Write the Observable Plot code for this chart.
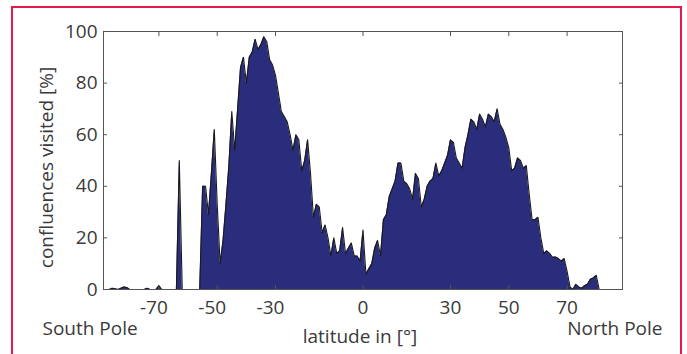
<!DOCTYPE html>
<html><head><meta charset="utf-8">
<script src="https://cdn.jsdelivr.net/npm/d3@7"></script>
<script src="https://cdn.jsdelivr.net/npm/@observablehq/plot@0.6"></script>
<style>
body{margin:0;background:#fff;}
#wrap{position:relative;width:687px;height:354px;overflow:hidden;background:#fff;}
#border{position:absolute;left:11px;top:6px;width:671px;height:420px;border:2px solid #e5194d;border-bottom:none;box-sizing:border-box;}
#chart{position:absolute;left:0;top:0;}
</style></head><body>
<div id="wrap"><div id="border"></div><div id="chart"></div></div>
<script>
// latitude in degrees (-89 ... 89)
const latitudes = [
 -89,-88,-87,-86,-85,-84,-83,-82,-81,-80,
 -79,-78,-77,-76,-75,-74,-73,-72,-71,-70,
 -69,-68,-67,-66,-65,-64,-63,-62,-61,-60,
 -59,-58,-57,-56,-55,-54,-53,-52,-51,-50,
 -49,-48,-47,-46,-45,-44,-43,-42,-41,-40,
 -39,-38,-37,-36,-35,-34,-33,-32,-31,-30,
 -29,-28,-27,-26,-25,-24,-23,-22,-21,-20,
 -19,-18,-17,-16,-15,-14,-13,-12,-11,-10,
 -9,-8,-7,-6,-5,-4,-3,-2,-1,0,
 1,2,3,4,5,6,7,8,9,10,
 11,12,13,14,15,16,17,18,19,20,
 21,22,23,24,25,26,27,28,29,30,
 31,32,33,34,35,36,37,38,39,40,
 41,42,43,44,45,46,47,48,49,50,
 51,52,53,54,55,56,57,58,59,60,
 61,62,63,64,65,66,67,68,69,70,
 71,72,73,74,75,76,77,78,79,80,
 81,82,83,84,85,86,87,88,89
];
// confluences visited [%]
const visited = [
 0,0,0,0.5,0.3,0,0.5,1,0.8,0,
 0,0,0,0,0,0.5,0,0,0,1.5,
 0,0,0,0,0,0,50,0,0,0,
 0,0,0,0,40,40,29,45,62,33,
 10,19,33,48,69,54,70,86,90,80,
 90,92,97,93,95,98,96,89,87,83,
 76,69,67,65,60,54,60,58,46,50,
 58,45,28,33,32,22,25,20,13,20,
 14,15,24,14,16,18,13,13,11,23,
 6,8,10,16,19,13,27,29,36,39,
 42,49,49,42,41,39,35,45,43,32,
 35,40,42,43,49,44,46,49,52,58,
 57,51,49,47,55,60,66,65,62,68,
 66,63,68,67,65,70,64,62,59,55,
 46,47,51,50,47,48,37,27,27,28,
 20,14,15,14,12.5,12.6,12,11,12,7,
 1,0,2,1,0.5,1.5,2,4,4.5,5.5,
 0,0,0,0,0,0,0,0,0
];
const xTicks = [-70, -50, -30, 0, 30, 50, 70];
const yTicks = [0, 20, 40, 60, 80, 100];
const yLabel = "confluences visited [%]";
const xLabel = "latitude in [°]";
const southLabel = "South Pole";
const northLabel = "North Pole";

const data = latitudes.map((lat, i) => ({lat, v: visited[i]}));
const txt = "#3a3a3a";
const tickColor = "#555";
const fmt = d => String(d);

const chart = Plot.plot({
  width: 687, height: 354,
  marginLeft: 103, marginRight: 65, marginTop: 31, marginBottom: 65,
  style: {fontFamily: "'Open Sans', sans-serif", fontSize: "19px", color: txt, background: "transparent"},
  x: {domain: [-89, 89], label: null},
  y: {domain: [0, 100], label: null},
  marks: [
    Plot.areaY(data, {x: "lat", y: "v", fill: "#292d7b"}),
    Plot.lineY(data, {x: "lat", y: "v", stroke: "#1a1a1a", strokeWidth: 1.1}),
    Plot.frame({stroke: tickColor}),
    Plot.axisX(xTicks, {anchor: "bottom", tickSize: -4, stroke: tickColor, tickFormat: () => "", label: null}),
    Plot.axisX(xTicks, {anchor: "top", tickSize: -4, stroke: tickColor, tickFormat: () => "", label: null}),
    Plot.axisX(xTicks.filter(d => d < 0), {anchor: "bottom", tickSize: 0, tickPadding: 11, dx: -5, tickFormat: fmt, fill: txt, fontSize: 19, label: null}),
    Plot.axisX(xTicks.filter(d => d >= 0), {anchor: "bottom", tickSize: 0, tickPadding: 11, tickFormat: fmt, fill: txt, fontSize: 19, label: null}),
    Plot.axisY(yTicks, {anchor: "left", tickSize: -4, tickPadding: 10, stroke: tickColor, tickFormat: fmt, fill: txt, fontSize: 19, label: null}),
    Plot.axisY(yTicks, {anchor: "right", tickSize: -4, stroke: tickColor, tickFormat: () => "", label: null}),
    Plot.text([yLabel], {text: d => d, frameAnchor: "left", rotate: -90, dx: -57, dy: 7, textAnchor: "middle", lineAnchor: "middle", fill: txt, fontSize: 19}),
    Plot.text([xLabel], {text: d => d, frameAnchor: "bottom", dx: -3, dy: 53, textAnchor: "middle", lineAnchor: "bottom", fill: txt, fontSize: 19}),
    Plot.text([southLabel], {text: d => d, frameAnchor: "bottom-left", dx: -61, dy: 45, textAnchor: "start", lineAnchor: "bottom", fill: txt, fontSize: 19}),
    Plot.text([northLabel], {text: d => d, frameAnchor: "bottom-right", dx: 40, dy: 45, textAnchor: "end", lineAnchor: "bottom", fill: txt, fontSize: 19})
  ]
});
document.getElementById("chart").appendChild(chart);
</script>
</body></html>
